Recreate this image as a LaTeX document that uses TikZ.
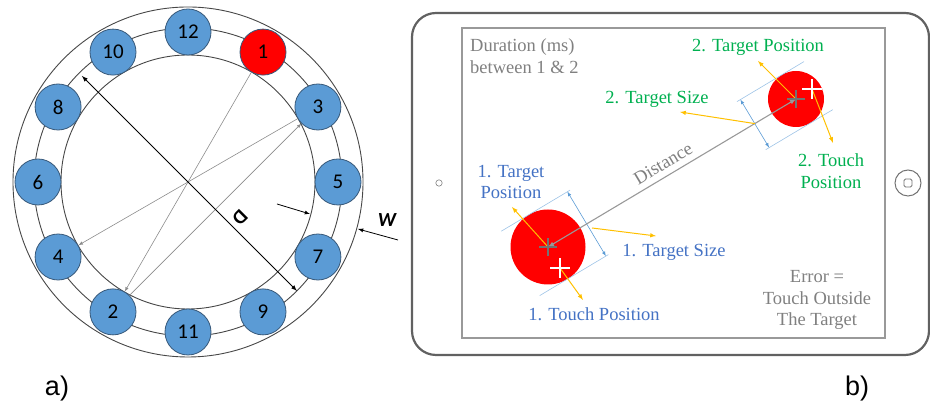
\documentclass[tikz,border=0pt]{standalone}
\usepackage{fontspec}
\setmainfont{Liberation Serif}
\newfontfamily\calibri{Carlito}
\newfontfamily\arial{Liberation Sans}
\usepackage{tikz}
\usetikzlibrary{arrows, positioning}

\definecolor{tapblue}{HTML}{5B9BD5}
\definecolor{tapline}{HTML}{38597A}
\definecolor{txtblue}{HTML}{4472C4}
\definecolor{txtgreen}{HTML}{00B050}
\definecolor{pointer}{HTML}{FFC000}
\definecolor{sizeline}{HTML}{9DC3E6}
\definecolor{txtgray}{HTML}{808080}

\begin{document}
\begin{tikzpicture}[x=1pt, y=1pt,
		tap/.style={circle, draw=tapline, line width=0.8pt, fill=tapblue, minimum size=46pt, inner sep=0pt, font=\calibri\fontsize{21}{21}\selectfont},
		ring/.style={draw=black!72, line width=0.9pt},
		order/.style={-latex, draw=black!45, line width=0.6pt},
		dimline/.style={latex-latex, draw=black, line width=1pt},
		wmark/.style={-latex, draw=black, line width=0.8pt},
		bigletter/.style={inner sep=1pt, font=\calibri\bfseries\fontsize{20}{20}\selectfont},
		panel/.style={inner sep=0pt, font=\arial\fontsize{27}{27}\selectfont},
		txt/.style={inner sep=0pt, font=\fontsize{18.5}{21.5}\selectfont},
		target/.style={circle, fill=red, inner sep=0pt},
		tangent/.style={draw=sizeline, line width=0.6pt},
		sizearrow/.style={latex-latex, draw=tapblue, line width=0.6pt},
		pointarrow/.style={-latex, draw=pointer, line width=1pt},
		centermark/.style={draw=black!55, line width=2.2pt},
		touchmark/.style={draw=white, line width=2.6pt}]
	\useasboundingbox (0,0) rectangle (930,403);

	\begin{scope}[shift={(188,221)}]
		\draw[ring] (0,0) circle (127);
		\draw[ring] (0,0) circle (154);
		\draw[ring] (0,0) circle (175);

		\node[tap] (n12) at (90:150) {12};
		\node[tap, fill=red] (n1) at (60:150) {1};
		\node[tap] (n3) at (30:150) {3};
		\node[tap] (n5) at (0:150) {5};
		\node[tap] (n7) at (-30:150) {7};
		\node[tap] (n9) at (-60:150) {9};
		\node[tap] (n11) at (-90:150) {11};
		\node[tap] (n2) at (-120:150) {2};
		\node[tap] (n4) at (-150:150) {4};
		\node[tap] (n6) at (180:150) {6};
		\node[tap] (n8) at (150:150) {8};
		\node[tap] (n10) at (120:150) {10};

		\draw[order] (n1) -- (n2);
		\draw[order] (n2) -- (n3);
		\draw[order] (n3) -- (n4);

		\coordinate (dstart) at (135:150);
		\coordinate (dend) at (-45:154);
		\draw[dimline] (dstart) -- (dend);
		\node[bigletter, rotate=-135] (dlabel) at (52,-36) {D};

		\coordinate (winner) at (89,-22);
		\coordinate (winnertip) at (122,-32);
		\coordinate (wouter) at (210,-58);
		\coordinate (woutertip) at (170,-47);
		\draw[wmark] (winner) -- (winnertip);
		\draw[wmark] (wouter) -- (woutertip);
		\node[bigletter, font=\calibri\bfseries\itshape\fontsize{20}{20}\selectfont] (wlabel) at (199,-38) {W};
	\end{scope}
	\node[panel] (alabel) at (57,14) {a)};

	\draw[draw=black!62, line width=2.2pt, rounded corners=24pt] (412,48) rectangle (929,390);
	\draw[draw=black!40, line width=1.4pt] (462,65) rectangle (885,375);
	\draw[draw=black!50, line width=0.6pt] (439,220) circle (3.2);
	\draw[draw=black!55, line width=1pt] (908,220) circle (13);
	\draw[draw=black!55, line width=0.9pt, rounded corners=1.5pt] (904,216) rectangle (912,224);

	\node[target, minimum size=75pt] (tgt1) at (548,156) {};
	\node[target, minimum size=56pt] (tgt2) at (796,304) {};
	\coordinate (touch1) at (560,135);
	\coordinate (touch2) at (812,314);

	\draw[tangent] (501.3,171.8) -- (570.0,212.8);
	\draw[tangent] (539.7,107.4) -- (608.4,148.4);
	\draw[tangent] (737.0,301.4) -- (804.0,341.4);
	\draw[tangent] (765.7,253.3) -- (832.7,293.3);

	\coordinate (size1a) at (567.4,211.3);
	\coordinate (size1b) at (605.9,146.9);
	\coordinate (size2a) at (740.4,303.4);
	\coordinate (size2b) at (769.1,255.4);
	\draw[sizearrow] (size1a) -- (size1b);
	\draw[sizearrow] (size2a) -- (size2b);

	\draw[latex-latex, draw=black!40, line width=1.1pt] (tgt1.center) -- (tgt2.center) node[txt, text=txtgray, pos=0.49, sloped, above=6pt] (distlabel) {Distance};

	\coordinate (pos1tip) at (512,196);
	\coordinate (touch1tip) at (583,103);
	\coordinate (size1from) at (592,175);
	\coordinate (size1tip) at (656,167);
	\coordinate (pos2tip) at (758,342);
	\coordinate (touch2tip) at (833,260);
	\coordinate (size2from) at (754.8,279.4);
	\coordinate (size2tip) at (680,291);
	\draw[pointarrow] (tgt1.center) -- (pos1tip);
	\draw[pointarrow] (touch1) -- (touch1tip);
	\draw[pointarrow] (size1from) -- (size1tip);
	\draw[pointarrow] (tgt2.center) -- (pos2tip);
	\draw[pointarrow] (touch2) -- (touch2tip);
	\draw[pointarrow] (size2from) -- (size2tip);

	\draw[centermark] ([xshift=-9pt]tgt1.center) -- ([xshift=9pt]tgt1.center);
	\draw[centermark] ([yshift=-9pt]tgt1.center) -- ([yshift=9pt]tgt1.center);
	\draw[centermark] ([xshift=-9pt]tgt2.center) -- ([xshift=9pt]tgt2.center);
	\draw[centermark] ([yshift=-9pt]tgt2.center) -- ([yshift=9pt]tgt2.center);
	\draw[touchmark] ([xshift=-10pt]touch1) -- ([xshift=10pt]touch1);
	\draw[touchmark] ([yshift=-10pt]touch1) -- ([yshift=10pt]touch1);
	\draw[touchmark] ([xshift=-10pt]touch2) -- ([xshift=10pt]touch2);
	\draw[touchmark] ([yshift=-10pt]touch2) -- ([yshift=10pt]touch2);

	\node[txt, text=txtgray, align=left, anchor=west] (durlabel) at (470,347) {Duration (ms)\\between 1 \& 2};
	\node[txt, text=txtgreen] (pos2label) at (758,356) {2. Target Position};
	\node[txt, text=txtgreen] (size2label) at (657,304) {2. Target Size};
	\node[txt, text=txtgreen, align=center] (touch2label) at (831,232) {2. Touch\\Position};
	\node[txt, text=txtblue, align=center] (pos1label) at (511,221) {1. Target\\Position};
	\node[txt, text=txtblue] (size1label) at (674,151) {1. Target Size};
	\node[txt, text=txtblue] (touch1label) at (594,89) {1. Touch Position};
	\node[txt, text=txtgray, align=center] (errlabel) at (817,103) {Error =\\Touch Outside\\The Target};
	\node[panel] (blabel) at (857,14) {b)};
\end{tikzpicture}
\end{document}
